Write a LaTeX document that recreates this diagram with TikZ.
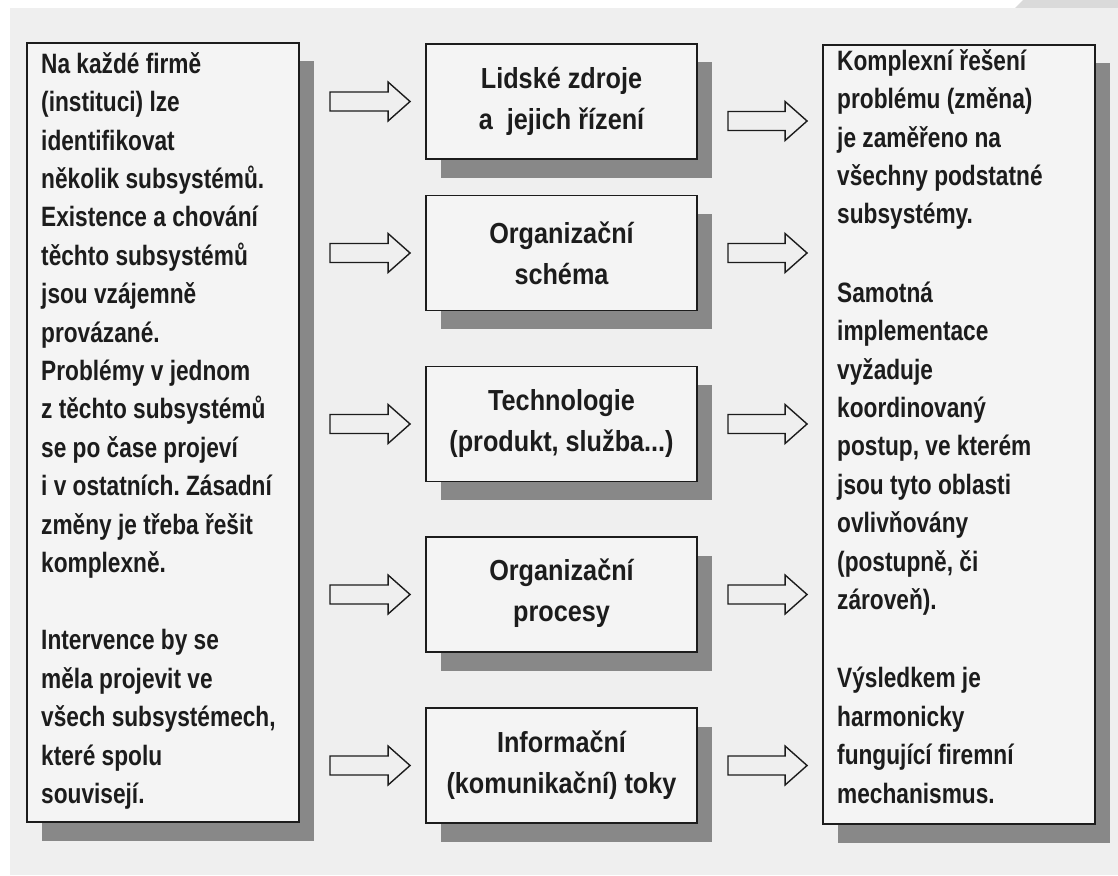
\documentclass[tikz,border=0pt]{standalone}
\usepackage{fontspec}
\newfontfamily\sidefont[FakeStretch=0.81]{Liberation Sans}
\newfontfamily\midfont[FakeStretch=0.87]{Liberation Sans}
\usetikzlibrary{calc,shadows}
\frenchspacing
\definecolor{paper}{RGB}{239,239,239}
\definecolor{boxfill}{RGB}{244,244,244}
\definecolor{shade}{RGB}{136,136,136}
\definecolor{ink}{RGB}{28,28,28}
\definecolor{edge}{RGB}{218,218,218}

\begin{document}
\begin{tikzpicture}[x=1pt,y=-1pt,
  box/.style={draw=ink, line width=1.9pt, fill=boxfill, rectangle, inner sep=0pt,
    general shadow={fill=shade, shadow xshift=15pt, shadow yshift=-18.5pt}},
  sidebox/.style={box, minimum width=272pt, minimum height=779pt},
  midbox/.style={box, minimum width=271pt, minimum height=115pt},
  sidetext/.style={anchor=north west, inner sep=0pt, align=left, text=ink,
    font=\sidefont\bfseries\fontsize{28}{38.4}\selectfont},
  midtext/.style={anchor=north, inner sep=0pt, align=center, text=ink,
    font=\midfont\bfseries\fontsize{29}{41}\selectfont},
  fat/.style={draw=ink, line width=1.4pt, line join=miter,
    to path={
      ($(\tikztostart)+(30pt,9.5pt)$) -- ($(\tikztotarget)+(-37pt,9.5pt)$)
      -- ($(\tikztotarget)+(-37pt,19.5pt)$) -- ($(\tikztotarget)+(-15pt,0pt)$)
      -- ($(\tikztotarget)+(-37pt,-19.5pt)$) -- ($(\tikztotarget)+(-37pt,-9.5pt)$)
      -- ($(\tikztostart)+(30pt,-9.5pt)$) -- cycle}}
]
\useasboundingbox (0,0) rectangle (1118,875);

% page
\fill[white] (0,0) rectangle (1118,875);
\fill[paper] (10,8) rectangle (1118,875);
\fill[edge] (1023,0) -- (1118,0) -- (1118,8) -- (1015,8) -- cycle;

% boxes
\node[sidebox] (L) at (163,432.5) {};
\node[midbox] (M1) at (561.5,101.5) {};
\node[midbox] (M2) at (561.5,253) {};
\node[midbox] (M3) at (561.5,424) {};
\node[midbox] (M4) at (561.5,594.5) {};
\node[midbox] (M5) at (561.5,765.5) {};
\node[sidebox] (R) at (959,434.5) {};

% texts
\node[sidetext] (Ltext) at (41,49) {\rule{0pt}{24pt}Na každé firmě\\(instituci) lze\\identifikovat\\několik subsystémů.\\Existence a chování\\těchto subsystémů\\jsou vzájemně\\provázané.\\Problémy v jednom\\z těchto subsystémů\\se po čase projeví\\i v ostatních. Zásadní\\změny je třeba řešit\\komplexně.\\[39pt]Intervence by se\\měla projevit ve\\všech subsystémech,\\které spolu\\souvisejí.};

\node[midtext] (T1) at (561.5,64) {\rule{0pt}{24pt}Lidské zdroje\\a\ \ jejich řízení};
\node[midtext] (T2) at (561.5,219) {\rule{0pt}{24pt}Organizační\\schéma};
\node[midtext] (T3) at (561.5,386) {\rule{0pt}{24pt}Technologie\\(produkt, služba...)};
\node[midtext] (T4) at (561.5,556) {\rule{0pt}{24pt}Organizační\\procesy};
\node[midtext] (T5) at (561.5,728) {\rule{0pt}{24pt}Informační\\(komunikační) toky};

\node[sidetext] (Rtext) at (837,46) {\rule{0pt}{24pt}Komplexní řešení\\problému (změna)\\je zaměřeno na\\všechny podstatné\\subsystémy.\\[40pt]Samotná\\implementace\\vyžaduje\\koordinovaný\\postup, ve kterém\\jsou tyto oblasti\\ovlivňovány\\(postupně, či\\zároveň).\\[40pt]Výsledkem je\\harmonicky\\fungující firemní\\mechanismus.};

% arrows into the subsystems
\foreach \m in {M1,M2,M3,M4,M5}
  \draw[fat] (L.east |- \m.west) to (\m.west);

% arrows towards the overall solution
\coordinate (r1) at ($(M1.east)+(0,19.5)$);
\draw[fat] (r1) to (r1 -| R.west);
\foreach \m in {M2,M3,M4,M5}
  \draw[fat] (\m.east) to (\m.east -| R.west);
\end{tikzpicture}
\end{document}
